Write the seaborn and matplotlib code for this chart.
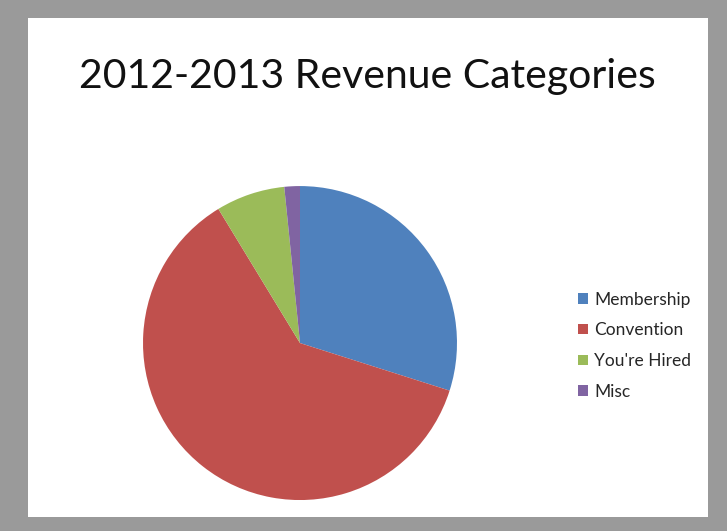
import matplotlib.pyplot as plt
import matplotlib.patches as mpatches
import seaborn as sns

sns.set_theme(style="white")
plt.rcParams['font.family'] = ['Lato', 'DejaVu Sans']

# Revenue share (percent)
categories = ["Membership", "Convention", "You're Hired", "Misc"]
shares = [29.9, 61.4, 7.1, 1.6]
colors = ['#4F81BD', '#C0504D', '#9BBB59', '#8064A2']

fig = plt.figure(figsize=(7.27, 5.31), dpi=100, facecolor='#9a9a9a')

# white slide area inside the gray frame
bg = fig.add_axes([28 / 727, 14 / 531, 680 / 727, 499 / 531], zorder=0)
bg.set_facecolor('white')
bg.set_xticks([])
bg.set_yticks([])
for s in bg.spines.values():
    s.set_visible(False)

ax = fig.add_axes([0.1967, 0.0583, 0.4319, 0.5913], zorder=1)
ax.pie(shares, colors=colors, startangle=90, counterclock=False,
       wedgeprops=dict(linewidth=0))
ax.set_xlim(-1, 1)
ax.set_ylim(-1, 1)
ax.set_aspect('equal')
ax.axis('off')

fig.text(0.506, 0.855, "2012-2013 Revenue Categories", ha='center', va='center',
         fontsize=29.5, color='#111111', zorder=2)

handles = [mpatches.Patch(facecolor=c, edgecolor='none', label=l)
           for c, l in zip(colors, categories)]
leg = fig.legend(handles=handles, loc='center left', bbox_to_anchor=(0.774, 0.349),
                 frameon=False, fontsize=12.5, handlelength=0.55, handleheight=0.55,
                 handletextpad=0.35, labelspacing=0.85)
leg.set_zorder(2)

plt.savefig("out.png", dpi=100, facecolor=fig.get_facecolor())
